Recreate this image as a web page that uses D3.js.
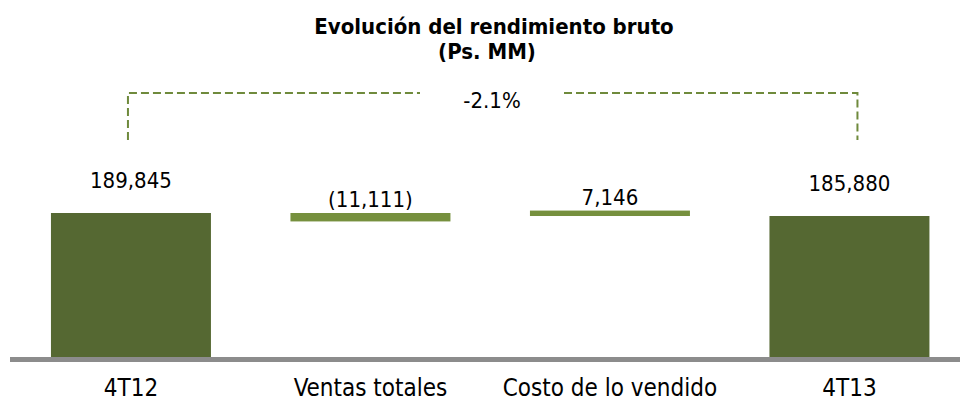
<!DOCTYPE html>
<html>
<head>
<meta charset="utf-8">
<script src="https://cdn.jsdelivr.net/npm/d3@7"></script>
<style>
  body { margin: 0; background: #fff; }
  svg { display: block; }
  text { font-family: "DejaVu Sans Condensed", "DejaVu Sans", sans-serif; fill: #000; }
</style>
</head>
<body>
<div id="chart"></div>
<script>
// data
var categories = ["4T12", "Ventas totales", "Costo de lo vendido", "4T13"];
var values = [189845, -11111, 7146, 185880];
var kinds = ["total", "step", "step", "total"];
var valueLabels = ["189,845", "(11,111)", "7,146", "185,880"];
var changeLabel = "-2.1%";
var titleLines = ["Evolución del rendimiento bruto", "(Ps. MM)"];

var width = 960, height = 401;

var svg = d3.select("#chart").append("svg")
  .attr("width", width)
  .attr("height", height);

var x = d3.scaleBand()
  .domain(categories)
  .range([11.2, 969.2])
  .paddingInner(0.332)
  .paddingOuter(0.166);

var y = d3.scaleLinear()
  .domain([0, values[0]])
  .range([357, 213]);

// build the bar extents (start/end) for the waterfall
var bars = [];
var running = values[0];
for (var i = 0; i < categories.length; i++) {
  var b = { cat: categories[i], kind: kinds[i], label: valueLabels[i] };
  if (kinds[i] == "total") {
    b.lo = 0; b.hi = values[i];
  } else if (values[i] < 0) {
    // drop from the running value
    b.hi = running; b.lo = running + values[i];
    running = b.lo;
  } else {
    // the chart places the increase on top of the closing total
    b.lo = values[3]; b.hi = values[3] + values[i];
  }
  bars.push(b);
}

svg.selectAll(".bar")
  .data(bars)
  .enter().append("rect")
  .attr("class", "bar")
  .attr("x", function(d) { return x(d.cat); })
  .attr("width", x.bandwidth())
  .attr("y", function(d) { return y(d.hi); })
  .attr("height", function(d) { return y(d.lo) - y(d.hi); })
  .attr("fill", function(d) { return d.kind == "total" ? "#556832" : "#76903e"; });

// baseline
svg.append("rect")
  .attr("x", 10)
  .attr("y", y(0))
  .attr("width", width - 10)
  .attr("height", 5)
  .attr("fill", "#8c8c8c");

// value labels
svg.selectAll(".val")
  .data(bars)
  .enter().append("text")
  .attr("class", "val")
  .attr("x", function(d) { return x(d.cat) + x.bandwidth() / 2; })
  .attr("y", function(d) { return y(d.hi) - (d.kind == "total" ? 25 : 6); })
  .attr("text-anchor", "middle")
  .style("font-size", "22px")
  .text(function(d) { return d.label; });

// category labels
svg.selectAll(".cat")
  .data(categories)
  .enter().append("text")
  .attr("class", "cat")
  .attr("x", function(d) { return x(d) + x.bandwidth() / 2; })
  .attr("y", 396)
  .attr("text-anchor", "middle")
  .style("font-size", "24px")
  .text(function(d) { return d; });

// title
svg.append("text")
  .attr("x", 494).attr("y", 34)
  .attr("text-anchor", "middle")
  .style("font-size", "22px").style("font-weight", "bold")
  .text(titleLines[0]);
svg.append("text")
  .attr("x", 487).attr("y", 59)
  .attr("text-anchor", "middle")
  .style("font-size", "22px").style("font-weight", "bold")
  .text(titleLines[1]);

// dashed bracket between the two totals
var xl = x(categories[0]) + x.bandwidth() / 2 - 3;
var xr = x(categories[3]) + x.bandwidth() / 2 + 8;
var yb = 93, yd = 140;
var dashColor = "#6f8a3c";
var bracket = svg.append("g")
  .attr("fill", "none")
  .attr("stroke", dashColor)
  .attr("stroke-width", 2)
  .attr("stroke-dasharray", "8,4");
bracket.append("path").attr("d", "M" + xl + "," + yd + "V" + yb + "H" + 420);
bracket.append("path").attr("d", "M" + 564 + "," + yb + "H" + xr + "V" + yd);

svg.append("text")
  .attr("x", 492).attr("y", 108)
  .attr("text-anchor", "middle")
  .style("font-size", "22px")
  .text(changeLabel);
</script>
</body>
</html>
